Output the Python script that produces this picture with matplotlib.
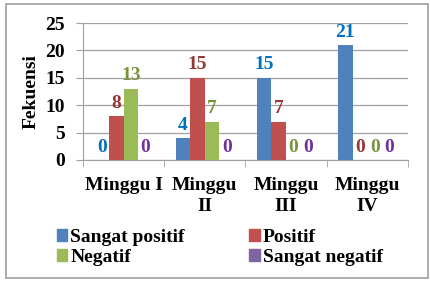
import numpy as np
import matplotlib
matplotlib.use('Agg')
import matplotlib.pyplot as plt
from matplotlib.patches import Rectangle

categories = ['Minggu I', 'Minggu\nII', 'Minggu\nIII', 'Minggu\nIV']
series = ['Sangat positif', 'Positif', 'Negatif', 'Sangat negatif']
sangat_positif = [0, 4, 15, 21]
positif = [8, 15, 7, 0]
negatif = [13, 7, 0, 0]
sangat_negatif = [0, 0, 0, 0]
yticks = [0, 5, 10, 15, 20, 25]

values = [sangat_positif, positif, negatif, sangat_negatif]
bar_colors = ['#4F81BD', '#C0504D', '#9BBB59', '#8064A2']
label_colors = ['#0070C0', '#953735', '#77933C', '#7030A0']

plt.rcParams['font.family'] = ['Liberation Serif', 'DejaVu Serif']
plt.rcParams['font.weight'] = 'bold'

fig = plt.figure(figsize=(4.31, 2.82), dpi=100)
fig.patches.append(Rectangle((6 / 431, 4 / 282), 422 / 431, 274 / 282,
                             transform=fig.transFigure, fill=False,
                             edgecolor='#A0A0A0', linewidth=1.2))
ax = fig.add_axes([83 / 431, 1 - 160 / 282, 325 / 431, 137 / 282])

x = np.arange(len(categories))
w = 0.18
for i, (vals, c, lc) in enumerate(zip(values, bar_colors, label_colors)):
    pos = x + (i - 1.5) * w
    ax.bar(pos, vals, width=w, color=c, zorder=3)
    for p, v in zip(pos, vals):
        ax.text(p, v + 0.8, str(v), ha='center', va='bottom', color=lc,
                fontsize=14, fontweight='bold')

ax.set_xlim(-0.5, len(categories) - 0.5)
ax.set_ylim(0, 25)
ax.set_yticks(yticks)
ax.set_xticks(x)
ax.set_xticklabels(categories, fontsize=14, fontweight='bold', linespacing=1.3)
ax.set_xticks(np.arange(len(categories) + 1) - 0.5, minor=True)
ax.tick_params(axis='x', which='major', length=0, pad=12)
ax.tick_params(axis='x', which='minor', length=5, color='#A0A0A0')
ax.tick_params(axis='y', length=5, color='#A0A0A0', labelsize=14, pad=8)
ax.grid(axis='y', color='#A0A0A0', linewidth=0.9, zorder=0)
for s in ['top', 'right']:
    ax.spines[s].set_visible(False)
for s in ['left', 'bottom']:
    ax.spines[s].set_color('#A0A0A0')
ax.set_ylabel('Fekuensi', fontsize=14, fontweight='bold', labelpad=4)

# row-wise legend order: matplotlib fills columns first
order = [0, 2, 1, 3]
handles = [Rectangle((0, 0), 1, 1, color=bar_colors[k]) for k in order]
fig.legend(handles, [series[k] for k in order], loc='upper left',
           bbox_to_anchor=(47 / 431, 1 - 219 / 282),
           ncol=2, frameon=False, fontsize=14, handlelength=0.55, handleheight=0.55,
           handletextpad=0.15, columnspacing=3.3, labelspacing=0.15, borderpad=0)

fig.savefig('out.png', dpi=100)
